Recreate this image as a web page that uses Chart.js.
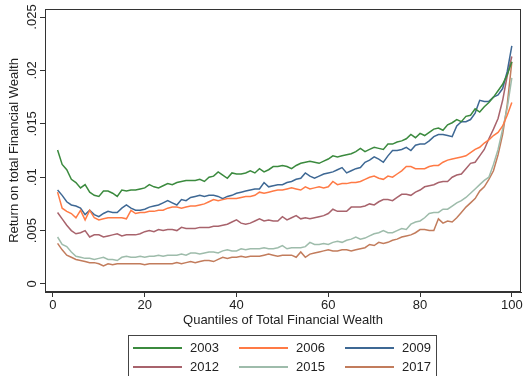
<!DOCTYPE html>
<html>
<head>
<meta charset="utf-8">
<script src="https://cdn.jsdelivr.net/npm/chart.js@4.4.1/dist/chart.umd.min.js"></script>
<style>
html,body{margin:0;padding:0;background:#fff;}
canvas{display:block;}
</style>
</head>
<body>
<canvas id="c" width="525" height="376"></canvas>
<script>
const quantiles = Array.from({length: 100}, (_, i) => i + 1);
const xTicks = [0, 20, 40, 60, 80, 100];
const yTicks = [0, 0.005, 0.01, 0.015, 0.02, 0.025];
const seriesNames = ['2003', '2006', '2009', '2012', '2015', '2017'];

const y2003 = [.01255,.0112,.0107,.0098,.0095,.0090,.0093,.0086,.0083,.0082,
.0087,.0087,.0085,.0082,.0088,.0087,.0088,.0088,.0089,.0090,
.0093,.0091,.0090,.0092,.0094,.0093,.0095,.0096,.0097,.0097,
.0097,.0098,.0096,.0100,.0101,.0105,.0102,.0099,.0104,.0103,
.0103,.0104,.0106,.0104,.0108,.0105,.0107,.0110,.0110,.0111,
.0110,.0108,.0111,.0113,.0114,.0115,.0114,.0113,.0115,.0117,
.0120,.0119,.0120,.0121,.0122,.0124,.0127,.0124,.0126,.0128,
.0127,.0126,.0131,.0131,.0133,.0134,.0136,.0140,.0137,.0141,
.0139,.0142,.0145,.0146,.0144,.0149,.0151,.0154,.0152,.0157,
.0158,.0164,.0161,.0166,.0170,.0175,.0181,.0187,.0196,.0208];

const y2006 = [.0086,.0071,.0068,.0066,.0062,.0069,.0060,.0069,.0062,.0060,
.0061,.0062,.0062,.0062,.0062,.0061,.0069,.0066,.0067,.0067,
.0068,.0068,.0069,.0069,.0071,.0072,.0072,.0071,.0072,.0073,
.0073,.0074,.0075,.0077,.0079,.0078,.0079,.0080,.0080,.0080,
.0081,.0082,.0082,.0083,.0086,.0085,.0086,.0087,.0088,.0088,
.0089,.0090,.0089,.0088,.0091,.0089,.0090,.0091,.0090,.0091,
.0096,.0093,.0094,.0094,.0095,.0095,.0096,.0098,.0100,.0101,
.0099,.0098,.0101,.0100,.0103,.0106,.0110,.0110,.0108,.0108,
.0108,.0110,.0111,.0111,.0114,.0116,.0117,.0118,.0119,.0120,
.0123,.0126,.0128,.0132,.0135,.0139,.0142,.0148,.0158,.0170];

const y2009 = [.0088,.0083,.0077,.0074,.0073,.0071,.0065,.0069,.0065,.0063,
.0066,.0068,.0067,.0067,.0071,.0074,.0071,.0069,.0069,.0070,
.0072,.0073,.0074,.0076,.0078,.0076,.0074,.0079,.0078,.0081,
.0082,.0083,.0082,.0083,.0083,.0082,.0080,.0082,.0083,.0085,
.0086,.0087,.0088,.0089,.0089,.0095,.0091,.0092,.0093,.0093,
.0095,.0096,.0098,.0099,.0104,.0101,.0099,.0101,.0103,.0104,
.0105,.0107,.0109,.0104,.0106,.0108,.0109,.0114,.0116,.0119,
.0117,.0114,.0120,.0125,.0125,.0126,.0128,.0125,.0130,.0131,
.0131,.0134,.0138,.0140,.0140,.0139,.0138,.0148,.0152,.0152,
.0154,.0160,.0172,.0171,.0171,.0175,.0177,.0183,.0199,.0223];

const y2012 = [.0067,.0061,.0055,.0050,.0047,.0048,.0050,.0044,.0046,.0046,
.0044,.0045,.0046,.0047,.0045,.0046,.0046,.0046,.0047,.0049,
.0050,.0049,.0051,.0050,.0051,.0051,.0050,.0053,.0052,.0052,
.0052,.0053,.0053,.0053,.0054,.0054,.0055,.0056,.0058,.0060,
.0057,.0056,.0057,.0059,.0061,.0059,.0060,.0059,.0059,.0063,
.0060,.0062,.0064,.0061,.0062,.0061,.0062,.0063,.0064,.0066,
.0070,.0068,.0068,.0068,.0072,.0072,.0072,.0073,.0075,.0074,
.0077,.0079,.0079,.0078,.0081,.0084,.0084,.0083,.0086,.0088,
.0091,.0092,.0093,.0095,.0096,.0096,.0100,.0102,.0103,.0108,
.0113,.0114,.0120,.0126,.0136,.0145,.0155,.0172,.0195,.0213];

const y2015 = [.0044,.0037,.0035,.0030,.0026,.0025,.0024,.0024,.0023,.0024,
.0025,.0023,.0023,.0022,.0025,.0026,.0025,.0025,.0026,.0025,
.0026,.0026,.0027,.0026,.0027,.0027,.0027,.0028,.0027,.0029,
.0029,.0028,.0029,.0030,.0030,.0029,.0031,.0032,.0031,.0031,
.0033,.0032,.0033,.0033,.0033,.0034,.0033,.0033,.0034,.0036,
.0033,.0034,.0034,.0034,.0035,.0039,.0037,.0037,.0038,.0037,
.0039,.0040,.0039,.0041,.0042,.0044,.0042,.0043,.0045,.0047,
.0048,.0050,.0048,.0048,.0050,.0052,.0051,.0056,.0058,.0059,
.0062,.0066,.0067,.0067,.0070,.0070,.0073,.0076,.0078,.0081,
.0085,.0089,.0093,.0097,.0100,.0112,.0126,.0145,.0165,.0193];

const y2017 = [.0038,.0032,.0027,.0025,.0023,.0022,.0021,.0020,.0020,.0019,
.0017,.0019,.0018,.0019,.0019,.0019,.0019,.0019,.0019,.0018,
.0019,.0019,.0019,.0019,.0019,.0019,.0020,.0019,.0020,.0021,
.0020,.0021,.0022,.0022,.0021,.0023,.0025,.0024,.0025,.0025,
.0026,.0025,.0026,.0026,.0026,.0027,.0028,.0027,.0026,.0027,
.0027,.0027,.0025,.0030,.0025,.0028,.0029,.0030,.0031,.0032,
.0031,.0031,.0032,.0032,.0031,.0032,.0033,.0034,.0037,.0036,
.0039,.0038,.0039,.0041,.0042,.0044,.0045,.0046,.0048,.0051,
.0051,.0050,.0050,.0061,.0057,.0059,.0058,.0062,.0067,.0072,
.0076,.0080,.0087,.0091,.0098,.0106,.0121,.0140,.0168,.0208];

const seriesValues = [y2003, y2006, y2009, y2012, y2015, y2017];
const seriesColors = ['#3b8a3e', '#ff7a45', '#3e6894', '#a8636c', '#9ebcab', '#c27c5c'];

const FONT = '"Liberation Sans", Arial, Helvetica, sans-serif';
const TXT = '#222';
const AXC = '#333';

const framePlugin = {
  id: 'frame',
  afterDraw(chart) {
    const {ctx, chartArea: a} = chart;
    ctx.save();
    ctx.strokeStyle = AXC;
    ctx.lineWidth = 1;
    ctx.strokeRect(Math.round(a.left) + 0.5, Math.round(a.top) + 0.5,
                   Math.round(a.right - a.left) - 1, Math.round(a.bottom - a.top) - 1);
    ctx.restore();
  }
};

const legendPlugin = {
  id: 'gridLegend',
  afterDraw(chart) {
    const ctx = chart.ctx;
    ctx.save();
    ctx.strokeStyle = '#444';
    ctx.lineWidth = 1;
    ctx.strokeRect(128.5, 335.5, 308, 50);
    ctx.font = '13px ' + FONT;
    ctx.fillStyle = TXT;
    ctx.textBaseline = 'middle';
    ctx.textAlign = 'left';
    chart.data.datasets.forEach((ds, i) => {
      const col = i % 3, row = Math.floor(i / 3);
      const x0 = 133 + col * 106;
      const y0 = 348 + row * 19;
      ctx.strokeStyle = ds.borderColor;
      ctx.lineWidth = 2;
      ctx.beginPath();
      ctx.moveTo(x0, y0);
      ctx.lineTo(x0 + 49, y0);
      ctx.stroke();
      ctx.fillText(ds.label, x0 + 57, y0);
    });
    ctx.restore();
  }
};

new Chart(document.getElementById('c'), {
  type: 'line',
  data: {
    labels: quantiles,
    datasets: seriesNames.map((name, i) => ({
      label: name,
      data: quantiles.map((q, j) => ({x: q, y: seriesValues[i][j]})),
      borderColor: seriesColors[i],
      backgroundColor: seriesColors[i],
      borderWidth: 1.5,
      pointRadius: 0,
      tension: 0,
      fill: false
    }))
  },
  options: {
    responsive: false,
    animation: false,
    devicePixelRatio: 1,
    layout: {padding: {left: 0, top: 9, right: 4, bottom: 0}},
    plugins: {legend: {display: false}, tooltip: {enabled: false}},
    scales: {
      x: {
        type: 'linear',
        min: -1.74,
        max: 102,
        afterBuildTicks: s => { s.ticks = xTicks.map(v => ({value: v})); },
        afterFit: s => { s.height = 84; },
        grid: {drawOnChartArea: false, drawTicks: true, tickLength: 5, color: AXC, lineWidth: 1},
        border: {display: true, color: AXC, width: 1},
        ticks: {color: TXT, font: {family: FONT, size: 13}, padding: 1, maxRotation: 0, autoSkip: false},
        title: {display: true, text: 'Quantiles of Total Financial Wealth', color: TXT,
                font: {family: FONT, size: 13}, padding: {top: 48, bottom: 48}}
      },
      y: {
        type: 'linear',
        min: -0.00075,
        max: 0.02575,
        afterBuildTicks: s => { s.ticks = yTicks.map(v => ({value: v})); },
        afterFit: s => { s.width = 45; },
        grid: {drawOnChartArea: false, drawTicks: true, tickLength: 5, color: AXC, lineWidth: 1},
        border: {display: true, color: AXC, width: 1},
        ticks: {
          color: TXT, font: {family: FONT, size: 13}, padding: -5,
          minRotation: 90, maxRotation: 90, crossAlign: 'center', autoSkip: false,
          callback: v => v === 0 ? '0' : String(+v.toFixed(3)).replace(/^0/, '')
        },
        title: {display: true, text: 'Return on total Financial Wealth', color: TXT,
                font: {family: FONT, size: 13}, padding: {top: 7, bottom: 7}}
      }
    }
  },
  plugins: [framePlugin, legendPlugin]
});
</script>
</body>
</html>
